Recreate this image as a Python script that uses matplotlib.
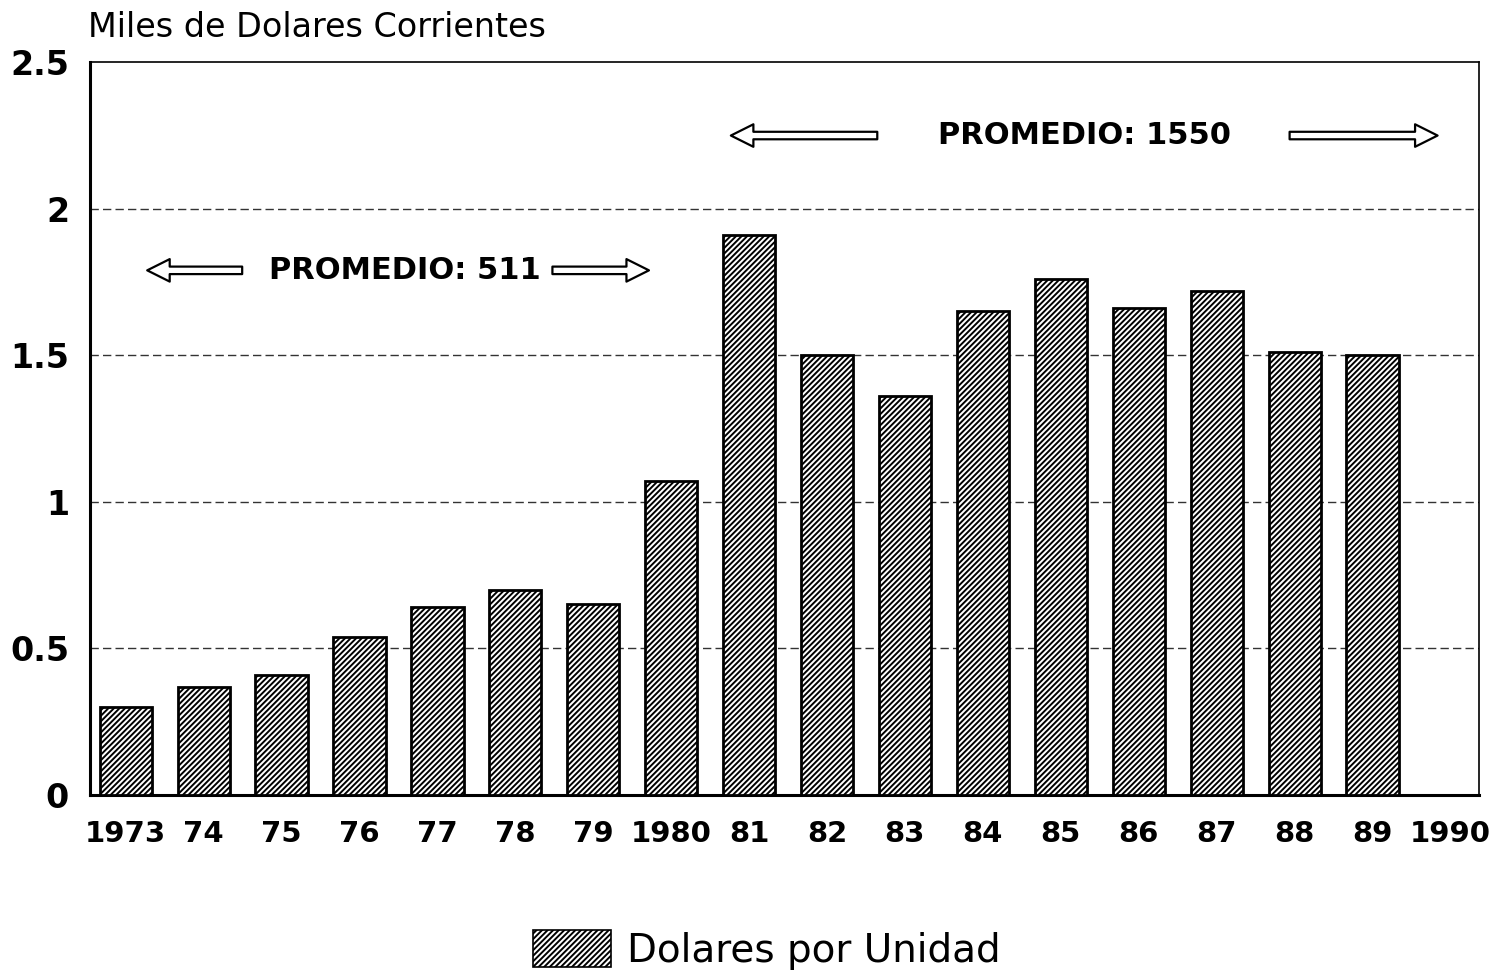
import matplotlib
matplotlib.use("Agg")
import matplotlib.pyplot as plt
from matplotlib.patches import FancyArrowPatch, Patch

# ── data ──────────────────────────────────────────────────────────────────────
years = ["1973", "74", "75", "76", "77", "78", "79", "1980", "81",
         "82", "83", "84", "85", "86", "87", "88", "89", "1990"]
valores = [0.30, 0.37, 0.41, 0.54, 0.64, 0.70, 0.65, 1.07, 1.91,
           1.50, 1.36, 1.65, 1.76, 1.66, 1.72, 1.51, 1.50, None]

plt.rcParams["font.family"] = ["DejaVu Sans"]
plt.rcParams["hatch.linewidth"] = 1.4

fig = plt.figure(figsize=(14.98, 9.73), dpi=100)
ax = fig.add_axes([0.060, 0.183, 0.927, 0.753])

xs = [i for i, v in enumerate(valores) if v is not None]
hs = [v for v in valores if v is not None]
ax.bar(xs, hs, width=0.67, color="white", edgecolor="black",
       linewidth=2, hatch="//////", zorder=3)

ax.set_xlim(-0.46, 17.36)
ax.set_ylim(0, 2.5)
ax.set_yticks([0, 0.5, 1, 1.5, 2, 2.5])
ax.set_yticklabels(["0", "0.5", "1", "1.5", "2", "2.5"])
ax.set_xticks(range(len(years)))
ax.set_xticklabels(years)
ax.tick_params(axis="y", length=0, pad=15, labelsize=24)
ax.tick_params(axis="x", length=0, pad=18, labelsize=21)
for lab in ax.get_xticklabels() + ax.get_yticklabels():
    lab.set_fontweight("bold")

for y in [0.5, 1, 1.5, 2]:
    ax.axhline(y, color="#333333", lw=1, ls=(0, (6, 3)), zorder=1)

for s in ["left", "bottom"]:
    ax.spines[s].set_linewidth(2.2)
for s in ["top", "right"]:
    ax.spines[s].set_linewidth(1.2)

fig.text(0.059, 0.972, "Miles de Dolares Corrientes", fontsize=24,
         ha="left", va="center")


# ── promedio annotations ─────────────────────────────────────────────────────
def hollow_arrow(x0, x1, y):
    arr = FancyArrowPatch((x0, y), (x1, y),
                          arrowstyle="simple,head_length=0.9,head_width=0.9,tail_width=0.3",
                          mutation_scale=18, facecolor="white",
                          edgecolor="black", lw=1.6, zorder=4)
    ax.add_patch(arr)


hollow_arrow(1.53, 0.24, 1.79)
ax.text(3.58, 1.79, "PROMEDIO: 511", fontsize=22, fontweight="bold",
        ha="center", va="center")
hollow_arrow(5.44, 6.75, 1.79)

hollow_arrow(9.68, 7.73, 2.25)
ax.text(12.31, 2.25, "PROMEDIO: 1550", fontsize=22, fontweight="bold",
        ha="center", va="center")
hollow_arrow(14.9, 16.87, 2.25)

# ── legend ───────────────────────────────────────────────────────────────────
handle = Patch(facecolor="white", edgecolor="black", hatch="//////", lw=1.2)
fig.legend([handle], ["Dolares por Unidad"], loc="center",
           bbox_to_anchor=(0.512, 0.024), frameon=False, fontsize=28,
           handlelength=2.0, handleheight=1.1, handletextpad=0.4)

plt.savefig("out.png", dpi=100)
